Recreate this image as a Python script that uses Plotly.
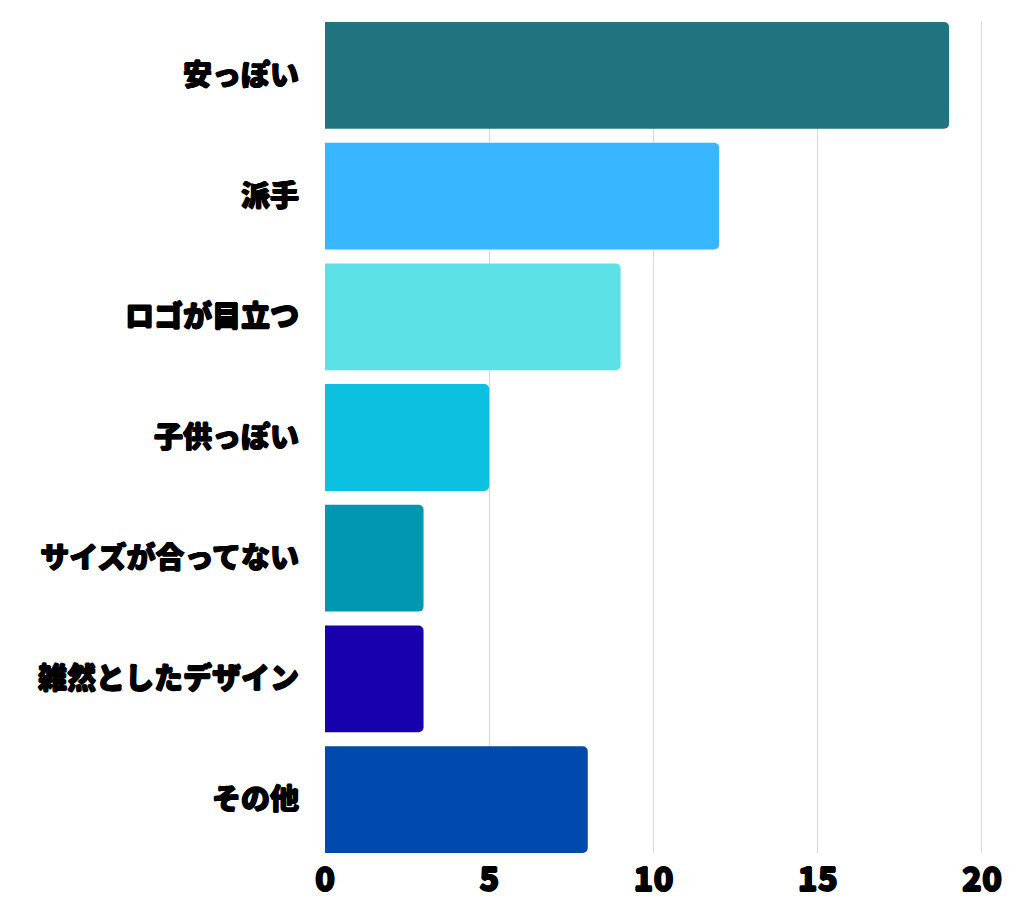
import plotly.graph_objects as go

# 不満の理由（件数）
categories = ["安っぽい", "派手", "ロゴが目立つ", "子供っぽい", "サイズが合ってない", "雑然としたデザイン", "その他"]
values = [19, 12, 9, 5, 3, 3, 8]
bar_colors = ["#20747F", "#38B6FF", "#5CE1E6", "#0CC0DF", "#0097B2", "#1800AD", "#004AAD"]
x_ticks = [0, 5, 10, 15, 20]

gap = 0.115
# 太めの見た目にするための影
heavy = "0.7px 0 0 black, -0.7px 0 0 black, 0 0.7px 0 black, 0 -0.7px 0 black"
font_family = "Noto Sans CJK JP Black, Noto Sans CJK JP"

fig = go.Figure(go.Bar(
    x=values,
    y=categories,
    orientation="h",
    marker=dict(color=bar_colors, line=dict(width=0)),
    hoverinfo="x+y",
))

fig.update_layout(
    width=1024,
    height=905,
    margin=dict(l=317, r=32, t=14, b=50),
    plot_bgcolor="white",
    paper_bgcolor="white",
    bargap=gap,
    barcornerradius=5,
    showlegend=False,
    font=dict(family=font_family, color="black"),
)

fig.update_xaxes(
    range=[0, 20.55],
    tickvals=x_ticks,
    showgrid=True,
    gridcolor="#d6d6d6",
    gridwidth=1,
    zeroline=False,
    showline=False,
    ticks="",
    ticklabelstandoff=4,
    tickfont=dict(size=33, weight=900, family=font_family, shadow=heavy),
)

fig.update_yaxes(
    categoryorder="array",
    categoryarray=categories,
    range=[len(categories) - 0.5 - gap / 2, -0.5 + gap / 2],
    showgrid=False,
    zeroline=False,
    showline=False,
    ticks="",
    ticklabelstandoff=25,
    tickfont=dict(size=29, weight=900, family=font_family, shadow=heavy),
)

fig.write_html("out.html")
